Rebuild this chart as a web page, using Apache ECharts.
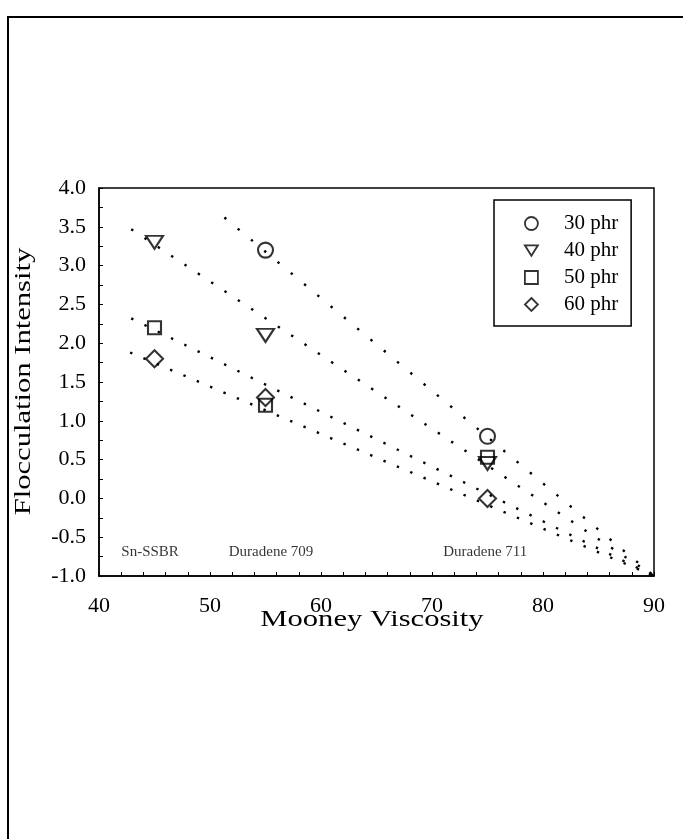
<!DOCTYPE html>
<html>
<head>
<meta charset="UTF-8">
<title>Flocculation Intensity vs Mooney Viscosity</title>
<script src="https://cdn.jsdelivr.net/npm/echarts@6/dist/echarts.min.js"></script>
<style>
  html, body { margin: 0; padding: 0; background: #fff; }
  #chart { width: 683px; height: 839px; }
</style>
</head>
<body>
<div id="chart"></div>
<script>
// measured points (Mooney viscosity, flocculation intensity)
var seriesNames = ['30 phr', '40 phr', '50 phr', '60 phr'];
var mooney = [45, 55, 75];
var phr30 = [null, 3.2, 0.8];
var phr40 = [3.3, 2.1, 0.45];
var phr50 = [2.2, 1.2, 0.53];
var phr60 = [1.8, 1.3, 0.0];

// dotted trend lines: start point and common end point
var fitStartX = [51.3, 42.9, 42.9, 42.8];
var fitStartY = [3.62, 3.47, 2.32, 1.88];
var fitEnd = [90, -1.0];

// rubber grades written along the bottom
var gradeNames = ['Sn-SSBR', 'Duradene 709', 'Duradene 711'];
var gradeX = [44.6, 55.5, 74.8];
var gradeY = -0.69;

var xTicks = [40, 50, 60, 70, 80, 90];
var yTicks = [-1.0, -0.5, 0.0, 0.5, 1.0, 1.5, 2.0, 2.5, 3.0, 3.5, 4.0];

var FONT = '"Liberation Serif", "Times New Roman", serif';

var symbols = ['circle', 'path://M0,0L10,0L5,8Z', 'rect', 'diamond'];
var sizes = [15, [17, 13], 13, 17];
var dashes = [[2.4, 14.9], [2.4, 13.6], [2.4, 12.4], [2.4, 12.1]];
var allY = [phr30, phr40, phr50, phr60];

function pairs(ys) {
  var out = [];
  for (var i = 0; i < mooney.length; i++) {
    if (ys[i] != null) out.push([mooney[i], ys[i]]);
  }
  return out;
}

var series = [];
for (var k = 0; k < 4; k++) {
  series.push({
    name: 'fit' + k,
    type: 'line',
    data: [[fitStartX[k], fitStartY[k]], fitEnd],
    showSymbol: false,
    silent: true,
    z: 1,
    lineStyle: { color: '#000', width: 2.4, type: dashes[k], cap: 'butt' }
  });
}
for (var k = 0; k < 4; k++) {
  series.push({
    name: seriesNames[k],
    type: 'scatter',
    data: pairs(allY[k]),
    symbol: symbols[k],
    symbolSize: sizes[k],
    symbolKeepAspect: false,
    z: 3,
    itemStyle: { color: 'rgba(0,0,0,0)', borderColor: '#000', borderWidth: 2.1 }
  });
}
series.push({
  name: 'grades',
  type: 'scatter',
  symbolSize: 0,
  silent: true,
  data: gradeNames.map(function (n, i) { return { name: n, value: [gradeX[i], gradeY] }; }),
  label: {
    show: true, position: 'inside', formatter: '{b}',
    fontFamily: FONT, fontSize: 15, color: '#000'
  }
});

var chart = echarts.init(document.getElementById('chart'));
chart.setOption({
  animation: false,
  backgroundColor: '#fff',
  grid: {
    left: 99, right: 29, top: 188, bottom: 263,
    show: true, borderColor: '#000', borderWidth: 1.5, backgroundColor: 'transparent'
  },
  xAxis: {
    type: 'value', min: xTicks[0], max: xTicks[xTicks.length - 1], interval: 10,
    axisLine: { onZero: false, lineStyle: { color: '#000', width: 1.5 } },
    axisTick: { inside: true, length: 4, lineStyle: { color: '#000' } },
    minorTick: { show: true, splitNumber: 5, length: 4, lineStyle: { color: '#000' } },
    splitLine: { show: false },
    axisLabel: { margin: 19, fontFamily: FONT, fontSize: 22, color: '#000' }
  },
  yAxis: {
    type: 'value', min: yTicks[0], max: yTicks[yTicks.length - 1], interval: 0.5,
    axisLine: { show: true, onZero: false, lineStyle: { color: '#000', width: 1.5 } },
    axisTick: { show: true, inside: true, length: 4, lineStyle: { color: '#000' } },
    minorTick: { show: true, splitNumber: 2, length: 4, lineStyle: { color: '#000' } },
    splitLine: { show: false },
    axisLabel: {
      margin: 13, fontFamily: FONT, fontSize: 22, color: '#000',
      formatter: function (v) { return v.toFixed(1); }
    }
  },
  legend: {
    data: seriesNames,
    orient: 'vertical',
    left: 494, top: 200,
    padding: [13, 13, 11, 30],
    borderColor: '#000', borderWidth: 1.5,
    itemWidth: 13, itemHeight: 13, itemGap: 6,
    itemStyle: { borderWidth: 1.8 },
    textStyle: { fontFamily: FONT, fontSize: 21, lineHeight: 21, color: '#000', padding: [0, 0, 0, 21] }
  },
  graphic: [
    {
      type: 'rect', silent: true,
      shape: { x: 8, y: 17, width: 720, height: 900 },
      style: { fill: 'none', stroke: '#000', lineWidth: 2 }
    },
    {
      type: 'text', x: 372, y: 620, scaleX: 1.33,
      style: {
        text: 'Mooney Viscosity', fontFamily: FONT, fontSize: 23, fill: '#000',
        align: 'center', verticalAlign: 'middle'
      }
    },
    {
      type: 'text', x: 24, y: 381.5, rotation: Math.PI / 2, scaleX: 1.33,
      style: {
        text: 'Flocculation Intensity', fontFamily: FONT, fontSize: 23, fill: '#000',
        align: 'center', verticalAlign: 'middle'
      }
    }
  ],
  series: series
});
</script>
</body>
</html>
